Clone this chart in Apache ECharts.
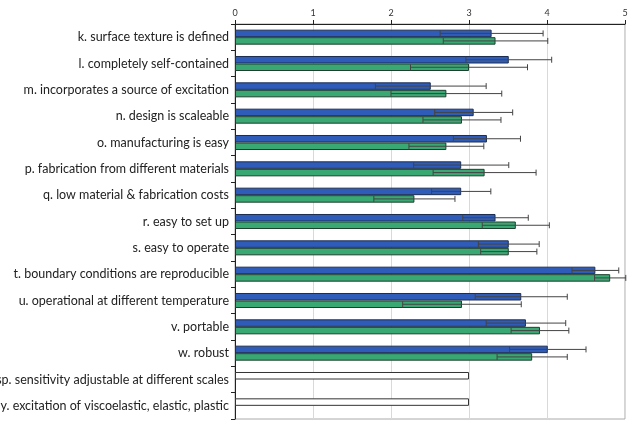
<!DOCTYPE html>
<html>
<head>
<meta charset="utf-8">
<script src="https://cdn.jsdelivr.net/npm/echarts@6/dist/echarts.min.js"></script>
<style>
  html, body { margin: 0; padding: 0; background: #fff; }
  #chart { width: 634px; height: 426px; }
</style>
</head>
<body>
<div id="chart"></div>
<script>
// categories, top to bottom
const categories = [
  'k. surface texture is defined',
  'l. completely self-contained',
  'm. incorporates a source of excitation',
  'n. design is scaleable',
  'o. manufacturing is easy',
  'p. fabrication from different materials',
  'q. low material & fabrication costs',
  'r. easy to set up',
  's. easy to operate',
  't. boundary conditions are reproducible',
  'u. operational at different temperature',
  'v. portable',
  'w. robust',
  'sp. sensitivity adjustable at different scales',
  'y. excitation of viscoelastic, elastic, plastic'
];
// blue series (upper bar) and its error
const blueValues = [3.29, 3.51, 2.51, 3.06, 3.23, 2.90, 2.90, 3.34, 3.51, 4.62, 3.67, 3.73, 4.01, 3.0, 3.0];
const blueErr    = [0.66, 0.55, 0.71, 0.50, 0.43, 0.61, 0.38, 0.42, 0.39, 0.30, 0.59, 0.51, 0.49, null, null];
// green series (lower bar) and its error
const greenValues = [3.34, 3.00, 2.71, 2.91, 2.71, 3.20, 2.30, 3.60, 3.51, 4.81, 2.91, 3.91, 3.81, null, null];
const greenErr    = [0.67, 0.75, 0.71, 0.50, 0.48, 0.66, 0.52, 0.43, 0.36, 0.20, 0.76, 0.37, 0.45, null, null];
// rows drawn as empty white bars
const whiteRows = [13, 14];
const xTicks = [0, 1, 2, 3, 4, 5];

const gapPct = 0.43;

const blueData = blueValues.map((v, i) => whiteRows.indexOf(i) >= 0
  ? { value: v, itemStyle: { color: '#fff', borderColor: '#333' } }
  : v);

function errData(values, errs) {
  const out = [];
  values.forEach((v, i) => {
    if (v != null && errs[i] != null) out.push([v - errs[i], v + errs[i], i]);
  });
  return out;
}

function errRender(side) {
  return function (params, api) {
    const lo = api.coord([api.value(0), api.value(2)]);
    const hi = api.coord([api.value(1), api.value(2)]);
    const band = api.size([0, 1])[1];
    const bw = band * (1 - gapPct) / 2;
    const y = lo[1] + side * bw / 2;
    const cap = 3;
    const style = { stroke: '#444', lineWidth: 1 };
    return {
      type: 'group',
      children: [
        { type: 'line', shape: { x1: lo[0], y1: y, x2: hi[0], y2: y }, style: style },
        { type: 'line', shape: { x1: lo[0], y1: y - cap, x2: lo[0], y2: y + cap }, style: style },
        { type: 'line', shape: { x1: hi[0], y1: y - cap, x2: hi[0], y2: y + cap }, style: style }
      ]
    };
  };
}

const chart = echarts.init(document.getElementById('chart'));
chart.setOption({
  animation: false,
  grid: {
    left: 235, right: 9, top: 24, bottom: 7,
    outerBoundsMode: 'none', containLabel: false,
    show: true, borderColor: '#aaa', borderWidth: 1
  },
  xAxis: {
    type: 'value', position: 'top', min: 0, max: 5, interval: 1,
    axisLine: { show: true, lineStyle: { color: '#222' } },
    axisTick: { show: true, length: 4, lineStyle: { color: '#222' } },
    axisLabel: { fontSize: 9, color: '#333', fontFamily: 'Lato', margin: 6,
      formatter: v => xTicks.indexOf(v) >= 0 ? String(v) : '' },
    splitLine: { show: true, lineStyle: { color: '#d9d9d9' } }
  },
  yAxis: {
    type: 'category', data: categories, inverse: true,
    axisLine: { show: true, lineStyle: { color: '#222' } },
    axisTick: { show: true, length: 4, lineStyle: { color: '#222' } },
    axisLabel: { fontSize: 12.5, color: '#222', fontFamily: 'Lato', margin: 6 }
  },
  series: [
    {
      type: 'bar', data: blueData, barGap: '0%', barCategoryGap: (gapPct * 100) + '%',
      itemStyle: { color: '#2f5cb8', borderColor: '#1e2e50', borderWidth: 1 }
    },
    {
      type: 'bar', data: greenValues,
      itemStyle: { color: '#3aa872', borderColor: '#1e3f2e', borderWidth: 1 }
    },
    {
      type: 'custom', renderItem: errRender(-1), data: errData(blueValues, blueErr),
      encode: { x: [0, 1], y: 2 }, z: 10
    },
    {
      type: 'custom', renderItem: errRender(1), data: errData(greenValues, greenErr),
      encode: { x: [0, 1], y: 2 }, z: 10
    }
  ]
});
</script>
</body>
</html>
